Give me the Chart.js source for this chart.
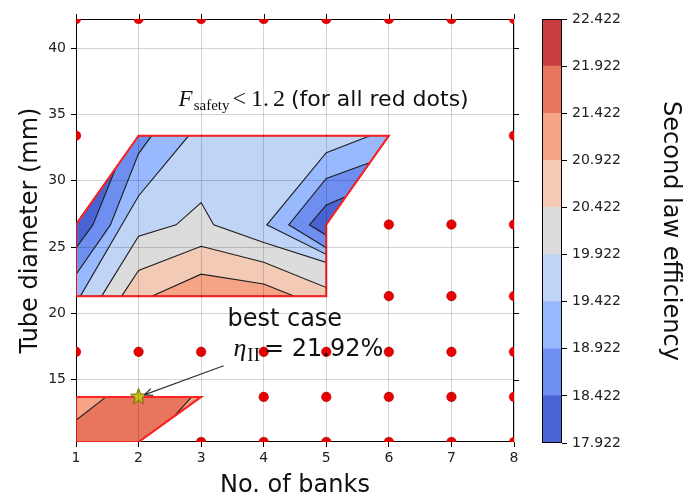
<!DOCTYPE html>
<html>
<head>
<meta charset="utf-8">
<title>Second law efficiency map</title>
<script src="https://cdn.jsdelivr.net/npm/chart.js@4.4.1/dist/chart.umd.min.js"></script>
<style>
  body { margin: 0; background: #fff; }
  #wrap { position: relative; width: 685px; height: 500px; }
  #wrap canvas { position: absolute; left: 0; top: 0; }
</style>
</head>
<body>
<div id="wrap">
  <canvas id="mapChart" width="685" height="500"></canvas>
  <canvas id="barChart" width="685" height="500"></canvas>
</div>
<script>
// grid of cases
const banks = [1, 2, 3, 4, 5, 6, 7, 8];
const diameters = [10.3, 13.7, 17.1, 21.3, 26.7, 33.4, 42.2];
const yTicks = [15, 20, 25, 30, 35, 40];

// banks with F_safety < 1.2, one list per diameter row
const unsafeBanks = [
  [3, 4, 5, 6, 7, 8],
  [4, 5, 6, 7, 8],
  [1, 2, 3, 4, 5, 6, 7, 8],
  [6, 7, 8],
  [6, 7, 8],
  [1, 8],
  [1, 2, 3, 4, 5, 6, 7, 8]
];

// contour levels of the second law efficiency
const levels = [17.922, 18.422, 18.922, 19.422, 19.922, 20.422, 20.922, 21.422, 21.922, 22.422];
const levelColors = ['#4a63d3', '#6e8ff0', '#98b9fe', '#c0d4f5', '#dcdcdc',
                     '#f2cab6', '#f5a486', '#e7765d', '#c93c3d'];

const bestBank = 2;
const bestDiameter = 13.7;
const bestEta = 21.92;

// safe regions
const largeRegion = [[1, 21.3], [5, 21.3], [5, 26.7], [6, 33.4], [2, 33.4], [1, 26.7]];
const smallRegion = [[1, 10.3], [2, 10.3], [3, 13.7], [1, 13.7]];

// filled contour bands, bottom layer first: [level index, outline]
const contourBands = [
  [3, largeRegion],
  [2, [[1, 21.3], [1.07, 21.3], [2, 28.85], [2.8, 33.4], [2, 33.4], [1, 26.7]]],
  [1, [[1, 22.94], [1.55, 26.67], [2, 32.05], [2.21, 33.4], [2, 33.4], [1, 26.7]]],
  [0, [[1, 24.93], [1.27, 26.67], [1.63, 30.89], [1, 26.7]]],
  [4, [[1.41, 21.3], [2, 25.81], [2.6, 26.68], [3, 28.36], [3.2, 26.68], [4, 25.35], [5, 23.84], [5, 21.3]]],
  [5, [[1.73, 21.3], [2, 23.24], [3, 25.06], [4, 23.85], [5, 21.95], [5, 21.3]]],
  [6, [[2.21, 21.3], [3, 22.96], [4, 22.22], [4.49, 21.3]]],
  [2, [[5.7, 33.4], [5, 32.12], [4.05, 26.68], [5, 24.45], [5, 26.7], [6, 33.4]]],
  [1, [[5.69, 31.36], [5, 30.17], [4.4, 26.68], [5, 24.95], [5, 26.7]]],
  [0, [[5.31, 28.79], [5, 28.18], [4.73, 26.68], [5, 25.89], [5, 26.7]]],
  [7, smallRegion],
  [6, [[1, 11.94], [1.48, 13.7], [1, 13.7]]],
  [6, [[2.56, 12.2], [2.85, 13.7], [3, 13.7]]]
];

// text placement in data units
const safetyNoteAt = [2.64, 35.65];
const bestNoteAt = [3.42, 19.05];
const arrowFrom = [3.36, 16.05];

const closed = poly => poly.concat([poly[0]]).map(([x, y]) => ({x, y}));

function makeStar(r) {
  const c = document.createElement('canvas');
  const s = Math.ceil(r * 2 + 4);
  c.width = c.height = s;
  const g = c.getContext('2d');
  g.beginPath();
  for (let i = 0; i < 10; i++) {
    const rr = i % 2 ? r * 0.42 : r;
    const a = -Math.PI / 2 + i * Math.PI / 5;
    g.lineTo(s / 2 + rr * Math.cos(a), s / 2 + rr * Math.sin(a));
  }
  g.closePath();
  g.fillStyle = '#c8c21e';
  g.fill();
  g.strokeStyle = '#6d6a00';
  g.lineWidth = 1;
  g.stroke();
  return c;
}

const layers = [];
contourBands.forEach(([lvl, poly]) => {
  layers.push({
    data: closed(poly),
    fill: 'shape',
    backgroundColor: levelColors[lvl],
    borderColor: '#1e1e1e',
    borderWidth: 1.1,
    pointRadius: 0,
    tension: 0
  });
});
[largeRegion, smallRegion].forEach(poly => {
  layers.push({
    data: closed(poly),
    fill: false,
    borderColor: '#ff2222',
    borderWidth: 2,
    pointRadius: 0,
    tension: 0
  });
});
const dots = [];
unsafeBanks.forEach((row, i) => row.forEach(b => dots.push({x: b, y: diameters[i]})));
layers.push({
  data: dots,
  showLine: false,
  pointRadius: 4.8,
  pointBackgroundColor: '#ee0000',
  pointBorderColor: '#900',
  pointBorderWidth: 0.5,
  clip: 0
});
layers.push({
  data: [{x: bestBank, y: bestDiameter}],
  showLine: false,
  pointStyle: makeStar(8.5),
  pointRadius: 9
});
layers.forEach((d, i) => { d.order = layers.length - i; });

const tickFont = {family: 'DejaVu Sans', size: 14};
const titleFont = {family: 'DejaVu Sans', size: 24};

function outline(chart) {
  const {ctx, chartArea: a} = chart;
  ctx.strokeStyle = '#000';
  ctx.lineWidth = 1;
  ctx.strokeRect(a.left + 0.5, a.top + 0.5, a.right - a.left - 1, a.bottom - a.top - 1);
}

// axes box plus ticks on the top and right edges
const boxFrame = {
  id: 'boxFrame',
  beforeDatasetsDraw(chart) {
    const {ctx, chartArea: a, scales} = chart;
    ctx.save();
    outline(chart);
    ctx.beginPath();
    scales.x.ticks.forEach(t => {
      const px = Math.round(scales.x.getPixelForValue(t.value)) + 0.5;
      ctx.moveTo(px, a.top);
      ctx.lineTo(px, a.top - 5);
    });
    scales.y.ticks.forEach(t => {
      const py = Math.round(scales.y.getPixelForValue(t.value)) + 0.5;
      ctx.moveTo(a.right, py);
      ctx.lineTo(a.right + 5, py);
    });
    ctx.stroke();
    ctx.restore();
  }
};

// border round the colour bar
const barFrame = {
  id: 'barFrame',
  afterDatasetsDraw(chart) {
    chart.ctx.save();
    outline(chart);
    chart.ctx.restore();
  }
};

const notes = {
  id: 'notes',
  afterDraw(chart) {
    const {ctx, scales: {x, y}} = chart;
    ctx.save();
    ctx.fillStyle = '#111';
    ctx.textBaseline = 'alphabetic';

    // F_safety < 1.2 (for all red dots)
    let cx = x.getPixelForValue(safetyNoteAt[0]);
    const by = y.getPixelForValue(safetyNoteAt[1]);
    ctx.font = 'italic 23px "Liberation Serif"';
    ctx.fillText('F', cx, by);
    cx += ctx.measureText('F').width + 1;
    ctx.font = '15px "Liberation Serif"';
    ctx.fillText('safety', cx, by + 4);
    cx += ctx.measureText('safety').width + 3;
    ctx.font = '24px "Liberation Serif"';
    ctx.fillText('<', cx, by);
    cx += ctx.measureText('<').width + 5;
    ctx.fillText('1.', cx, by);
    cx += ctx.measureText('1.').width + 4;
    ctx.fillText('2', cx, by);
    cx += ctx.measureText('2').width + 6;
    ctx.font = '22px "DejaVu Sans"';
    ctx.fillText('(for all red dots)', cx, by);

    // best case label
    const lx = x.getPixelForValue(bestNoteAt[0]);
    const ly = y.getPixelForValue(bestNoteAt[1]);
    ctx.font = '24px "DejaVu Sans"';
    ctx.fillText('best case', lx, ly);
    const ly2 = ly + 30;
    cx = lx + 6;
    ctx.font = 'italic 26px "Liberation Serif"';
    ctx.fillText('η', cx, ly2);
    cx += ctx.measureText('η').width + 1;
    ctx.font = '19px "Liberation Serif"';
    ctx.fillText('II', cx, ly2 + 5);
    cx += ctx.measureText('II').width + 4;
    ctx.font = '24px "DejaVu Sans"';
    ctx.fillText('= ' + bestEta.toFixed(2) + '%', cx, ly2);

    // arrow to the best case
    const x0 = x.getPixelForValue(arrowFrom[0]);
    const y0 = y.getPixelForValue(arrowFrom[1]);
    const sx = x.getPixelForValue(bestBank);
    const sy = y.getPixelForValue(bestDiameter);
    const len = Math.hypot(x0 - sx, y0 - sy);
    const ux = (x0 - sx) / len, uy = (y0 - sy) / len;
    const tx = sx + ux * 6, ty = sy + uy * 6;
    ctx.strokeStyle = '#333';
    ctx.lineWidth = 1.2;
    ctx.beginPath();
    ctx.moveTo(x0, y0);
    ctx.lineTo(tx, ty);
    const ang = Math.atan2(uy, ux);
    [0.4, -0.4].forEach(d => {
      ctx.moveTo(tx, ty);
      ctx.lineTo(tx + 9 * Math.cos(ang + d), ty + 9 * Math.sin(ang + d));
    });
    ctx.stroke();
    ctx.restore();
  }
};

new Chart(document.getElementById('mapChart'), {
  type: 'line',
  data: {datasets: layers},
  options: {
    responsive: false,
    animation: false,
    events: [],
    layout: {padding: {left: 0, top: 19, right: 171, bottom: 0}},
    plugins: {legend: {display: false}, tooltip: {enabled: false}},
    scales: {
      x: {
        type: 'linear',
        min: banks[0],
        max: banks[banks.length - 1],
        afterBuildTicks: s => { s.ticks = banks.map(v => ({value: v})); },
        afterFit: s => { s.height = 58; },
        grid: {color: 'rgba(0,0,0,0.17)', z: 1, tickLength: 5, tickColor: '#000'},
        border: {display: false},
        ticks: {font: tickFont, color: '#222', padding: 3, maxRotation: 0, autoSkip: false},
        title: {display: true, text: 'No. of banks', font: titleFont, color: '#111', padding: {top: 0, bottom: 0}}
      },
      y: {
        type: 'linear',
        min: diameters[0],
        max: diameters[diameters.length - 1],
        afterBuildTicks: s => { s.ticks = yTicks.map(v => ({value: v})); },
        afterFit: s => { s.width = 76; },
        grid: {color: 'rgba(0,0,0,0.17)', z: 1, tickLength: 5, tickColor: '#000'},
        border: {display: false},
        ticks: {font: tickFont, color: '#222', padding: 5, autoSkip: false},
        title: {display: true, text: 'Tube diameter (mm)', font: titleFont, color: '#111', padding: {top: 16, bottom: 0}}
      }
    }
  },
  plugins: [boxFrame, notes]
});

// colour bar
new Chart(document.getElementById('barChart'), {
  type: 'bar',
  data: {
    labels: [''],
    datasets: levelColors.map((c, i) => ({
      data: [[levels[i], levels[i + 1]]],
      backgroundColor: c,
      borderWidth: 0,
      grouped: false,
      barPercentage: 1,
      categoryPercentage: 1
    }))
  },
  options: {
    responsive: false,
    animation: false,
    events: [],
    layout: {padding: {left: 542, top: 19, right: 0, bottom: 57}},
    plugins: {legend: {display: false}, tooltip: {enabled: false}},
    scales: {
      x: {display: false},
      y: {
        position: 'right',
        min: levels[0],
        max: levels[levels.length - 1],
        afterBuildTicks: s => { s.ticks = levels.map(v => ({value: v})); },
        afterFit: s => { s.width = 123; },
        grid: {drawOnChartArea: false, tickLength: 5, tickColor: '#000'},
        border: {display: false},
        ticks: {font: tickFont, color: '#222', padding: 5, autoSkip: false, callback: v => v.toFixed(3)},
        title: {display: true, text: 'Second law efficiency', font: titleFont, color: '#111', padding: {top: 0, bottom: 0}}
      }
    }
  },
  plugins: [barFrame]
});
</script>
</body>
</html>
